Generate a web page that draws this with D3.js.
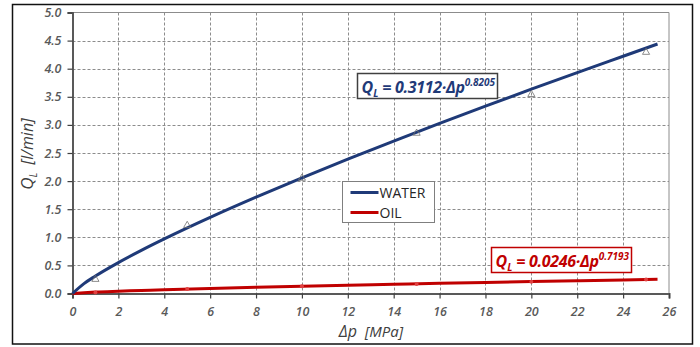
<!DOCTYPE html>
<html>
<head>
<meta charset="utf-8">
<script src="https://cdn.jsdelivr.net/npm/d3@7"></script>
<style>
  body { margin: 0; background: #fff; }
  svg { display: block; }
  .tick-label { font-family: "Open Sans", sans-serif; font-style: italic; font-weight: 600; font-size: 12.5px; fill: #595959; }
</style>
</head>
<body>
<svg id="chart"></svg>
<script>
// fitted curves (pressure drop in MPa -> leakage in l/min)
const curveDp = [0, 0.5, 1, 2, 3, 4, 6, 8, 10, 12, 14, 16, 18, 20, 22, 24, 25.5]
const waterCurve = [0, 0.176, 0.311, 0.550, 0.767, 0.971, 1.354, 1.714, 2.059, 2.391, 2.713, 3.027, 3.334, 3.635, 3.931, 4.222, 4.44]
const oilCurve = [0, 0.012, 0.0246, 0.0405, 0.054, 0.0667, 0.0893, 0.110, 0.129, 0.147, 0.164, 0.181, 0.197, 0.212, 0.227, 0.242, 0.253]

// measured points
const measDp = [1, 5, 10, 15, 20, 25]
const waterMeas = [0.27, 1.23, 2.07, 2.87, 3.56, 4.31]
const oilMeas = [0.02, 0.08, 0.13, 0.17, 0.21, 0.25]

const xTicks = d3.range(0, 27, 2)
const yTicks = d3.range(0, 5.01, 0.5)

const seriesNames = ["WATER", "OIL"]
const waterColor = "#1f3a78"
const oilColor = "#c00000"

const W = 700, H = 347
const plot = { left: 72.5, right: 669, top: 12.5, bottom: 293.5 }

const svg = d3.select("#chart").attr("width", W).attr("height", H)

// outer frame
svg.append("rect")
    .attr("x", 12.5).attr("y", 4.5)
    .attr("width", 680).attr("height", 339.5)
    .attr("fill", "none").attr("stroke", "#111").attr("stroke-width", 1.5)

const x = d3.scaleLinear().domain([0, 26]).range([plot.left, plot.right])
const y = d3.scaleLinear().domain([0, 5]).range([plot.bottom, plot.top])

// grid
const grid = svg.append("g")
grid.selectAll("line.v").data(xTicks.slice(1, -1)).enter().append("line")
    .attr("x1", d => Math.round(x(d)) + 0.5).attr("x2", d => Math.round(x(d)) + 0.5)
    .attr("y1", plot.top).attr("y2", plot.bottom)
    .attr("stroke", "#8c8c8c").attr("stroke-dasharray", "3,2")
grid.selectAll("line.h").data(yTicks.slice(1, -1)).enter().append("line")
    .attr("y1", d => Math.round(y(d)) + 0.5).attr("y2", d => Math.round(y(d)) + 0.5)
    .attr("x1", plot.left).attr("x2", plot.right)
    .attr("stroke", "#8c8c8c").attr("stroke-dasharray", "3,2")

// top and right plot border
svg.append("path")
    .attr("d", `M${plot.left},${plot.top}H${plot.right}V${plot.bottom}`)
    .attr("fill", "none").attr("stroke", "#8c8c8c").attr("stroke-width", 1)

// axes
const xAxis = d3.axisBottom(x).tickValues(xTicks).tickSize(5).tickPadding(9).tickFormat(d3.format("d"))
const yAxis = d3.axisLeft(y).tickValues(yTicks).tickSize(5).tickPadding(6).tickFormat(d3.format(".1f"))

const gx = svg.append("g").attr("transform", `translate(0,${plot.bottom})`).call(xAxis)
const gy = svg.append("g").attr("transform", `translate(${plot.left},0)`).call(yAxis)
for (const g of [gx, gy]) {
    g.select(".domain").attr("stroke", "#595959").attr("stroke-width", 2)
    g.selectAll(".tick line").attr("stroke", "#404040").attr("stroke-width", 1.2)
    g.selectAll(".tick text").attr("class", "tick-label").attr("font-size", null).attr("font-family", null)
}

// axis titles
const yTitle = svg.append("text")
    .attr("transform", "translate(33,154) rotate(-90)")
    .attr("text-anchor", "middle")
    .attr("font-family", "Open Sans, sans-serif").attr("font-style", "italic")
    .attr("font-size", 16).attr("fill", "#404040")
    .style("white-space", "pre")
yTitle.append("tspan").text("Q").attr("font-size", 17)
yTitle.append("tspan").text("L").attr("font-size", 10).attr("dy", 4)
yTitle.append("tspan").text("  [l/min]").attr("dy", -4)

const xTitle = svg.append("text")
    .attr("x", 371).attr("y", 337)
    .attr("text-anchor", "middle")
    .attr("font-family", "Open Sans, sans-serif").attr("font-style", "italic")
    .attr("font-size", 15).attr("fill", "#404040")
    .style("white-space", "pre")
xTitle.append("tspan").text("Δp").attr("font-size", 16)
xTitle.append("tspan").text("  [MPa]")

// curves
const line = d3.line()
    .x(d => x(d[0]))
    .y(d => y(d[1]))
    .curve(d3.curveMonotoneX)

svg.append("path")
    .datum(d3.zip(curveDp, oilCurve))
    .attr("d", line)
    .attr("fill", "none").attr("stroke", oilColor).attr("stroke-width", 3)

svg.append("path")
    .datum(d3.zip(curveDp, waterCurve))
    .attr("d", line)
    .attr("fill", "none").attr("stroke", waterColor).attr("stroke-width", 3)

// measured markers
const tri = d3.symbol().type(d3.symbolTriangle).size(22)
svg.append("g").selectAll("path").data(d3.zip(measDp, waterMeas)).enter().append("path")
    .attr("d", tri)
    .attr("transform", d => `translate(${x(d[0])},${y(d[1]) + 1})`)
    .attr("fill", "none").attr("stroke", "#707070").attr("stroke-width", 0.8)

svg.append("g").selectAll("circle").data(d3.zip(measDp, oilMeas)).enter().append("circle")
    .attr("cx", d => x(d[0])).attr("cy", d => y(d[1]))
    .attr("r", 2)
    .attr("fill", "#e04040").attr("stroke", "none")

// legend
const legend = svg.append("g").attr("transform", "translate(342.5,181.5)")
legend.append("rect")
    .attr("width", 92).attr("height", 41)
    .attr("fill", "#fff").attr("stroke", "#7f7f7f")
const legendY = d3.scalePoint().domain(seriesNames).range([11, 31])
legend.selectAll("line").data(seriesNames).enter().append("line")
    .attr("x1", 8).attr("x2", 36)
    .attr("y1", d => legendY(d)).attr("y2", d => legendY(d))
    .attr("stroke", (d, i) => [waterColor, oilColor][i]).attr("stroke-width", 3)
legend.selectAll("text").data(seriesNames).enter().append("text")
    .attr("x", 37).attr("y", d => legendY(d) + 5)
    .attr("font-family", "Open Sans, sans-serif").attr("font-size", 14)
    .attr("fill", "#262626")
    .text(d => d)

// equation boxes
function equation(gx, gy, w, coef, expo, color, border) {
    const g = svg.append("g").attr("transform", `translate(${gx},${gy})`)
    g.append("rect").attr("width", w).attr("height", 25)
        .attr("fill", "#fff").attr("stroke", border).attr("stroke-width", 1.5)
    const t = g.append("text")
        .attr("x", 4).attr("y", 19)
        .attr("font-family", "Open Sans, sans-serif").attr("font-style", "italic").attr("font-weight", "bold")
        .attr("font-size", 16).attr("fill", color)
        .style("white-space", "pre")
    t.append("tspan").text("Q")
    t.append("tspan").text("L").attr("font-size", 10).attr("dy", 4)
    t.append("tspan").text(` = ${coef}·Δp`).attr("dy", -4).attr("letter-spacing", -0.3)
    t.append("tspan").text(expo).attr("font-size", 10).attr("dy", -7)
}
equation(357.5, 73.5, 140, "0.3112", "0.8205", waterColor, "#404040")
equation(491.5, 247.5, 140, "0.0246", "0.7193", oilColor, oilColor)
</script>
</body>
</html>
